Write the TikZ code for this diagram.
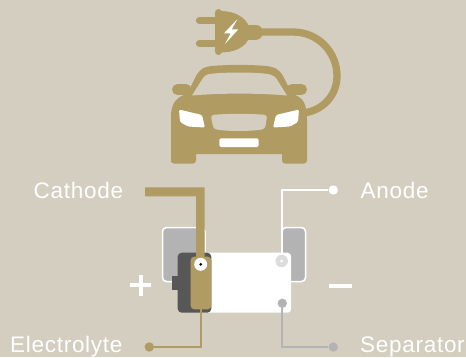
\documentclass[tikz,border=0pt]{standalone}
\usepackage{fontspec}
\setmainfont{Liberation Sans}
\newfontfamily\labelfont[LetterSpace=3.2]{Liberation Sans}
\usetikzlibrary{positioning}
\definecolor{sandbg}{HTML}{D4CEC0}
\definecolor{goldcar}{HTML}{B09B62}
\definecolor{platedark}{HTML}{575757}
\definecolor{plategrey}{HTML}{B3B3B3}
\definecolor{portgrey}{HTML}{DCDCDC}
\tikzset{
    dot/.style={circle, fill=#1, inner sep=0pt, minimum size=9.4pt},
    lead/.style={line width=1.7pt, #1},
    label/.style={text=white, anchor=base west, inner sep=0pt, font=\labelfont\fontsize{22.5}{22.5}\selectfont},
}

\begin{document}
\begin{tikzpicture}[x=1pt, y=-1pt]
    % Background
    \fill[sandbg] (0,0) rectangle (466,357);
    \useasboundingbox (0,0) rectangle (466,357);

    % Plug
    \draw[goldcar, line width=7.3pt, line cap=round] (199.5,20.3) -- (217,20.3);
    \draw[goldcar, line width=7.3pt, line cap=round] (199.5,43.7) -- (217,43.7);
    \draw[goldcar, line width=7pt, line cap=round] (218.5,12.5) -- (218.5,51.5);
    \fill[goldcar] (220,11) .. controls (240,11) and (250,22) .. (250,32) .. controls (250,43) and (240,52.5) .. (220,52.5) -- cycle;
    \draw[goldcar, line width=15pt, line cap=round] (248,32) -- (255.5,32);
    \fill[white] (237.3,19.3) -- (224,33.3) -- (230.7,33.3) -- (225,44) -- (238.3,29.3) -- (231.7,29.3) -- cycle;

    % Cable
    \draw[goldcar, line width=7.3pt] (258,32) -- (293,32) .. controls (318,32) and (337,52) .. (337,76) .. controls (337,96) and (322,111) .. (303,113);

    % Car
    \draw[goldcar, line width=11pt, line cap=round] (177.5,89.5) -- (186,89.5);
    \draw[goldcar, line width=11pt, line cap=round] (292,89.5) -- (301.5,89.5);
    \fill[goldcar] (186,96) -- (196,76) .. controls (201,68) and (204,67) .. (212,66) .. controls (228,64.5) and (250,64.5) .. (266,66) .. controls (274,67) and (278,68) .. (283,76) -- (293,96) -- cycle;
    \fill[goldcar] (171,163) [rounded corners=3pt] -- (171,120) [rounded corners=0pt] .. controls (171,104) and (176,98) .. (184,95) -- (295,95) .. controls (303,98) and (307,104) .. (307,120) [rounded corners=3pt] -- (307,163.5) -- (282,163.5) [rounded corners=0pt] -- (282,154) -- (196,154) [rounded corners=3pt] -- (196,163.5) -- (171,163.5) [rounded corners=0pt] -- cycle;
    \fill[sandbg] (192,95.5) -- (203,78) .. controls (206,74) and (209,74) .. (214,73.5) .. controls (228,72.2) and (250,72.2) .. (264,73.5) .. controls (270,74) and (273,75) .. (276,78) -- (287,95.5) .. controls (260,93) and (220,93) .. (192,95.5) -- cycle;
    \fill[sandbg, rounded corners=3pt] (210.7,115) .. controls (230,113.5) and (248,113.5) .. (267.3,115) -- (265,129) .. controls (250,131.5) and (228,131.5) .. (213.5,129) -- cycle;
    \fill[white, rounded corners=1.5pt] (179,109.5) -- (202,115) -- (205,127.5) -- (188,126.5) -- (180,122) -- cycle;
    \fill[white, rounded corners=1.5pt] (299,109.5) -- (276,115) -- (273,127.5) -- (290,126.5) -- (298,122) -- cycle;
    \fill[white, rounded corners=1.5pt] (219.3,138.3) rectangle (258.7,147);

    % Plates
    \draw[white, fill=plategrey, line width=1.5pt, rounded corners=4pt] (162.5,227.5) rectangle (205,281.5);
    \draw[white, fill=plategrey, line width=1.5pt, rounded corners=4pt] (282,227.5) rectangle (305.5,281.5);

    % Separator sheet
    \fill[white, rounded corners=3.5pt] (200,252.7) rectangle (291,312.7);
    \fill[platedark] (171.7,276) rectangle (180,290);
    \fill[platedark, rounded corners=4pt] (177.7,252.7) rectangle (211.3,312.7);

    % Leads
    \node[dot=goldcar] (electrolytedot) at (149.3,347) {};
    \coordinate (electrolytetop) at (200.7,305);
    \draw[lead=goldcar] (electrolytetop) |- (electrolytedot);
    \node[dot=plategrey] (separatordot) at (333.3,347) {};
    \node[dot=plategrey] (separatorport) at (282.3,303.3) {};
    \draw[lead=plategrey] (separatorport) |- (separatordot);
    \node[dot=white] (anodedot) at (333.3,190) {};
    \node[dot=portgrey, minimum size=12.4pt] (anodeport) at (281.7,261) {};
    \draw[lead=white] (anodeport) |- (anodedot);
    \node[circle, fill=white, inner sep=0pt, minimum size=3pt] at (anodeport) {};

    % Cathode
    \fill[goldcar] (145,187.3) -- (204.7,187.3) -- (204.7,265) -- (196,265) -- (196,196.3) -- (145,196.3) -- cycle;
    \fill[goldcar, rounded corners=3.5pt] (190.7,256.7) rectangle (211.3,309.3);
    \node[circle, fill=white, inner sep=0pt, minimum size=13pt] (cathodeport) at (200.7,264.3) {};
    \node[circle, fill=black, inner sep=0pt, minimum size=3pt] at (cathodeport) {};

    % Signs
    \draw[white, line width=4pt] (130.2,285.3) -- (151.2,285.3);
    \draw[white, line width=4pt] (140.7,274.8) -- (140.7,295.8);
    \draw[white, line width=4pt] (329,286) -- (351.7,286);

    % Labels
    \node[label] (cathode) at (33.5,198.3) {Cathode};
    \node[label] (anode) at (360.5,198.3) {Anode};
    \node[label] (electrolyte) at (10,352.7) {Electrolyte};
    \node[label] (separator) at (360,352.7) {Separator};
\end{tikzpicture}
\end{document}
